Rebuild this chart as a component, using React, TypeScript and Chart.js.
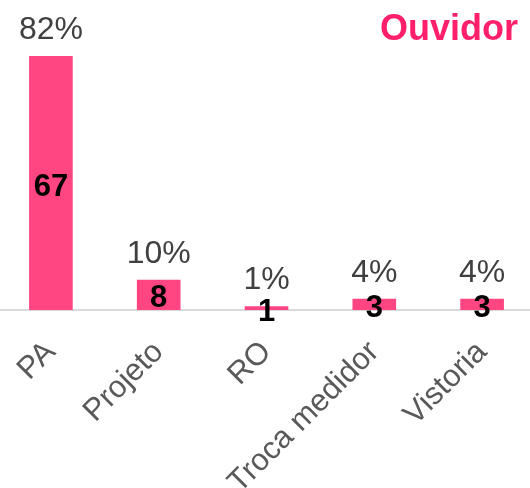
import React, { useEffect, useRef } from "react";
import { Chart, registerables } from "chart.js";

Chart.register(...registerables);

const categories = ["PA", "Projeto", "RO", "Troca medidor", "Vistoria"];
const counts = [67, 8, 1, 3, 3];
const percentLabels = ["82%", "10%", "1%", "4%", "4%"];
const chartTitle = "Ouvidor";

const FONT = '"Liberation Sans", Arial, sans-serif';

const labelPlugin = {
  id: "barLabels",
  afterDatasetsDraw(chart: any) {
    const ctx = chart.ctx;
    const meta = chart.getDatasetMeta(0);
    ctx.save();
    meta.data.forEach((bar: any, i: number) => {
      const x = bar.x;
      const top = bar.y;
      const base = bar.base;
      ctx.textAlign = "center";
      ctx.textBaseline = "alphabetic";
      ctx.fillStyle = "#404040";
      ctx.font = `32px ${FONT}`;
      ctx.fillText(percentLabels[i], x, top - 17);
      ctx.fillStyle = "#000000";
      ctx.font = `bold 31px ${FONT}`;
      ctx.fillText(String(counts[i]), x, (top + base) / 2 + 12.5);
    });
    ctx.textAlign = "right";
    ctx.fillStyle = "#FF1F6B";
    ctx.font = `bold 36px ${FONT}`;
    ctx.fillText(chartTitle, chart.width - 18, 40);
    ctx.restore();
  },
};

export default function App() {
  const ref = useRef<HTMLCanvasElement | null>(null);
  useEffect(() => {
    if (!ref.current) return;
    const chart = new Chart(ref.current, {
      type: "bar",
      data: {
        labels: categories,
        datasets: [
          {
            data: counts,
            backgroundColor: "#FF4683",
            borderWidth: 0,
            categoryPercentage: 1,
            barPercentage: 0.405,
          },
        ],
      },
      options: {
        responsive: false,
        animation: false,
        layout: { padding: { top: 56, left: 0, right: 0, bottom: 0 } },
        plugins: {
          legend: { display: false },
          tooltip: { enabled: false },
          title: { display: false },
        },
        scales: {
          x: {
            grid: { display: false, drawTicks: false },
            border: { display: true, color: "#d9d9d9", width: 2 },
            ticks: {
              color: "#595959",
              font: { family: FONT, size: 31 },
              maxRotation: 45,
              minRotation: 45,
              padding: 24,
              autoSkip: false,
            },
            afterFit(scale: any) {
              scale.height = 178;
            },
          },
          y: {
            display: false,
            min: 0,
            max: 67,
          },
        },
      },
      plugins: [labelPlugin],
    });
    return () => chart.destroy();
  }, []);
  return (
    <div
      style={{
        position: "fixed",
        left: 0,
        top: 0,
        width: 530,
        height: 488,
        overflow: "hidden",
        background: "#ffffff",
      }}
    >
      <canvas
        ref={ref}
        width={539}
        height={488}
        style={{ position: "absolute", left: -3, top: 0, width: 539, height: 488 }}
      />
    </div>
  );
}
